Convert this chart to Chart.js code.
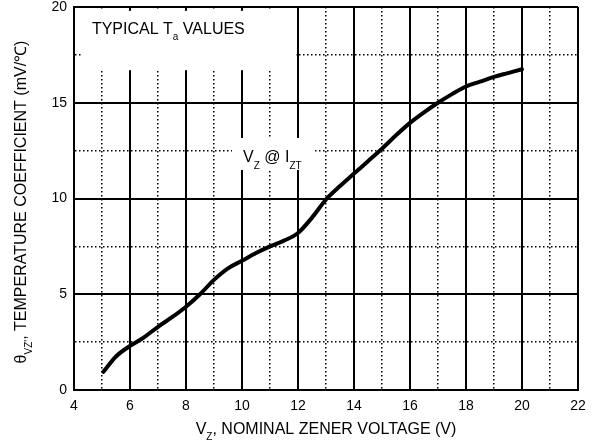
<!DOCTYPE html>
<html>
<head>
<meta charset="utf-8">
<script src="https://cdn.jsdelivr.net/npm/chart.js@4.4.1/dist/chart.umd.min.js"></script>
<style>
  html, body { margin: 0; padding: 0; background: #fff; }
  #wrap { width: 596px; height: 446px; }
</style>
</head>
<body>
<div id="wrap"><canvas id="zener-tc-chart" width="596" height="446"></canvas></div>
<script>
// nominal zener voltage (V)
const voltage = [5.05, 5.5, 6, 6.5, 7, 7.5, 8, 8.5, 9, 9.5, 10, 10.5, 11, 11.5, 12,
  12.5, 13, 13.5, 14, 14.5, 15, 15.5, 16, 16.5, 17, 17.5, 18, 18.5, 19, 19.5, 20];
// temperature coefficient (mV/°C)
const tempCoeff = [0.95, 1.75, 2.3, 2.75, 3.3, 3.8, 4.35, 5.0, 5.75, 6.35, 6.75, 7.15, 7.5, 7.8, 8.2,
  9.0, 9.95, 10.65, 11.3, 11.95, 12.6, 13.3, 13.95, 14.5, 15.0, 15.45, 15.85, 16.1, 16.35, 16.55, 16.75];

const xMin = 4, xMax = 22, xStep = 1, xLabelEvery = 2;
const yMin = 0, yMax = 20, yStep = 2.5, yLabelEvery = 5;

const FONT = '"Liberation Sans", Arial, sans-serif';

// draw text with subscript pieces: parts = [[text, isSub], ...]
const drawRich = (ctx, parts, x, y, size, subSize, subDrop) => {
  let cx = x;
  parts.forEach(([t, sub]) => {
    ctx.font = (sub ? subSize : size) + 'px ' + FONT;
    ctx.fillText(t, cx, sub ? y + subDrop : y);
    cx += ctx.measureText(t).width;
  });
  return cx - x;
};
const richWidth = (ctx, parts, size, subSize) => {
  let w = 0;
  parts.forEach(([t, sub]) => {
    ctx.font = (sub ? subSize : size) + 'px ' + FONT;
    w += ctx.measureText(t).width;
  });
  return w;
};

const labelsPlugin = {
  id: 'labels',
  afterDraw(chart) {
    const ctx = chart.ctx;
    const xs = chart.scales.x, ys = chart.scales.y;
    const area = chart.chartArea;
    ctx.save();
    ctx.fillStyle = '#000';
    ctx.textBaseline = 'alphabetic';
    ctx.textAlign = 'left';

    // "TYPICAL Ta VALUES" box
    ctx.fillStyle = '#fff';
    let bx0 = xs.getPixelForValue(4.32), bx1 = xs.getPixelForValue(11.93);
    let by0 = ys.getPixelForValue(19.8), by1 = ys.getPixelForValue(16.7);
    ctx.fillRect(bx0, by0, bx1 - bx0, by1 - by0);
    ctx.fillStyle = '#000';
    drawRich(ctx, [['TYPICAL T', false], ['a', true], [' VALUES', false]],
      xs.getPixelForValue(4.64), ys.getPixelForValue(18.6), 16, 10, 6);

    // "Vz @ Izt" box
    ctx.fillStyle = '#fff';
    bx0 = xs.getPixelForValue(9.64); bx1 = xs.getPixelForValue(12.61);
    by0 = ys.getPixelForValue(13.16); by1 = ys.getPixelForValue(11.49);
    ctx.fillRect(bx0, by0, bx1 - bx0, by1 - by0);
    ctx.fillStyle = '#000';
    drawRich(ctx, [['V', false], ['Z', true], [' @ I', false], ['ZT', true]],
      xs.getPixelForValue(10.04), ys.getPixelForValue(11.9), 16, 10, 7);

    // x axis title
    const xParts = [['V', false], ['Z', true], [', NOMINAL ZENER VOLTAGE (V)', false]];
    const xw = richWidth(ctx, xParts, 16, 10);
    drawRich(ctx, xParts, (area.left + area.right) / 2 - xw / 2, 434, 16, 10, 6);

    // y axis title (rotated)
    const yParts = [['\u03b8', false], ['VZ\'', true], [', TEMPERATURE COEFFICIENT (mV/\u2103)', false]];
    const yw = richWidth(ctx, yParts, 16, 10);
    ctx.translate(26, 202);
    ctx.rotate(-Math.PI / 2);
    drawRich(ctx, yParts, -yw / 2, 0, 16, 10, 6);
    ctx.restore();
  }
};

const tickFont = { family: FONT, size: 14 };

const chartInit = () => {
  const ctx = document.getElementById('zener-tc-chart').getContext('2d');
  new Chart(ctx, {
    type: 'line',
    data: {
      datasets: [{
        data: voltage.map((v, i) => ({ x: v, y: tempCoeff[i] })),
        borderColor: '#000',
        borderWidth: 4,
        borderCapStyle: 'round',
        borderJoinStyle: 'round',
        pointRadius: 0,
        cubicInterpolationMode: 'monotone',
        fill: false
      }]
    },
    options: {
      responsive: false,
      animation: false,
      layout: { padding: { top: 0, right: 18, left: 0, bottom: 0 } },
      plugins: {
        legend: { display: false },
        tooltip: { enabled: false }
      },
      scales: {
        x: {
          type: 'linear',
          min: xMin,
          max: xMax,
          afterFit: (s) => { s.height = 56; },
          ticks: {
            stepSize: xStep,
            autoSkip: false,
            maxRotation: 0,
            padding: 8,
            color: '#000',
            font: tickFont,
            callback: (v) => (v % xLabelEvery === 0 ? v : '')
          },
          grid: {
            color: '#000',
            drawTicks: false,
            lineWidth: (c) => (c.tick && c.tick.value % xLabelEvery !== 0 ? 1.5 : 2)
          },
          border: {
            color: '#000',
            width: 2,
            dash: (c) => (c.tick && c.tick.value % xLabelEvery !== 0 ? [1.5, 2.5] : [])
          }
        },
        y: {
          min: yMin,
          max: yMax,
          afterFit: (s) => { s.width = 74; s.paddingTop = 7; s.paddingBottom = 0; },
          ticks: {
            stepSize: yStep,
            autoSkip: false,
            padding: 7,
            color: '#000',
            font: tickFont,
            callback: (v) => (v % yLabelEvery === 0 ? v : '')
          },
          grid: {
            color: '#000',
            drawTicks: false,
            lineWidth: (c) => (c.tick && c.tick.value % yLabelEvery !== 0 ? 1.5 : 2)
          },
          border: {
            color: '#000',
            width: 2,
            dash: (c) => (c.tick && c.tick.value % yLabelEvery !== 0 ? [1.5, 2.5] : [])
          }
        }
      }
    },
    plugins: [labelsPlugin]
  });
};

chartInit();
</script>
</body>
</html>
